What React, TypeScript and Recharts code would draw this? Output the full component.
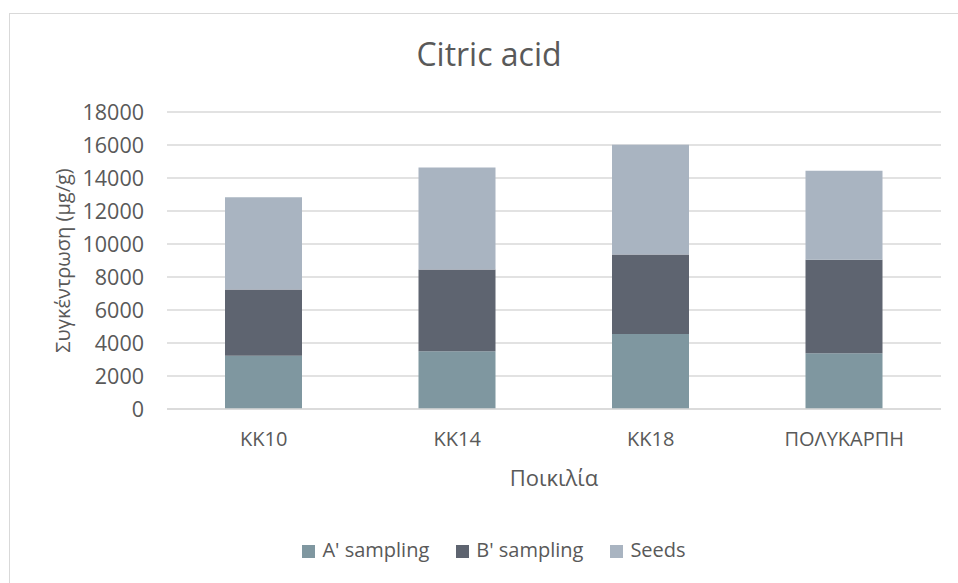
import { BarChart, Bar, XAxis, YAxis, CartesianGrid, Legend, Label } from 'recharts'

const categories = ['KK10', 'KK14', 'KK18', 'ΠΟΛΥΚΑΡΠΗ']
const aSampling = [3220, 3500, 4550, 3380]
const bSampling = [4030, 4960, 4810, 5660]
const seeds = [5580, 6180, 6650, 5400]
const yTicks = [0, 2000, 4000, 6000, 8000, 10000, 12000, 14000, 16000, 18000]

const FONT = '"Open Sans", "Noto Sans", sans-serif'
const TEXT = '#595959'
const GRID = '#d9d9d9'

const chartData = categories.map((name, i) => ({
  name,
  a: aSampling[i],
  b: bSampling[i],
  seeds: seeds[i],
}))

// rotated y-axis title, centred on the axis box
const YTitle = ({ viewBox }: any) => {
  const cx = viewBox.x + 22
  const cy = viewBox.y + viewBox.height / 2
  return (
    <text
      x={cx}
      y={cy}
      transform={`rotate(-90, ${cx}, ${cy})`}
      textAnchor="middle"
      dominantBaseline="central"
      fill={TEXT}
      fontSize={20}
      fontFamily={FONT}
    >
      Συγκέντρωση (μg/g)
    </text>
  )
}

export default function App() {
  return (
    <div
      style={{
        position: 'fixed',
        left: 0,
        top: 0,
        width: 958,
        height: 583,
        overflow: 'hidden',
        background: '#fff',
        fontFamily: FONT,
      }}
    >
      <div
        style={{
          position: 'absolute',
          left: 9,
          top: 13,
          width: 1000,
          height: 700,
          border: `1.5px solid ${GRID}`,
        }}
      />
      <div
        style={{
          position: 'absolute',
          left: 0,
          top: 32,
          width: 978,
          textAlign: 'center',
          fontSize: 32,
          color: TEXT,
        }}
      >
        Citric acid
      </div>
      <div style={{ position: 'absolute', left: 0, top: 0 }}>
        <BarChart
          width={958}
          height={583}
          data={chartData}
          margin={{ top: 112, right: 17, bottom: 20, left: 40 }}
          barSize={77}
        >
          <CartesianGrid vertical={false} stroke={GRID} strokeWidth={1.5} />
          <XAxis
            dataKey="name"
            height={127}
            tickSize={0}
            tickMargin={23}
            axisLine={{ stroke: GRID, strokeWidth: 1.5 }}
            tick={{ fill: TEXT, fontSize: 20, fontFamily: FONT }}
          >
            <Label
              value="Ποικιλία"
              position="insideTop"
              offset={61}
              style={{ fill: TEXT, fontSize: 22, fontFamily: FONT }}
            />
          </XAxis>
          <YAxis
            width={127}
            domain={[0, 18000]}
            ticks={yTicks}
            tickSize={0}
            tickMargin={23}
            axisLine={false}
            tick={{ fill: TEXT, fontSize: 21.5, fontFamily: FONT }}
          >
            <Label content={YTitle} />
          </YAxis>
          <Legend
            verticalAlign="bottom"
            align="center"
            iconType="square"
            iconSize={13}
            wrapperStyle={{ fontSize: 20, fontFamily: FONT, left: 57 }}
            formatter={(value) => (
              <span style={{ color: TEXT, marginLeft: 3, marginRight: 17 }}>{value}</span>
            )}
          />
          <Bar dataKey="a" name="A' sampling" stackId="s" fill="#7f97a0" isAnimationActive={false} />
          <Bar dataKey="b" name="B' sampling" stackId="s" fill="#5e6470" isAnimationActive={false} />
          <Bar dataKey="seeds" name="Seeds" stackId="s" fill="#a9b4c1" isAnimationActive={false} />
        </BarChart>
      </div>
    </div>
  )
}
